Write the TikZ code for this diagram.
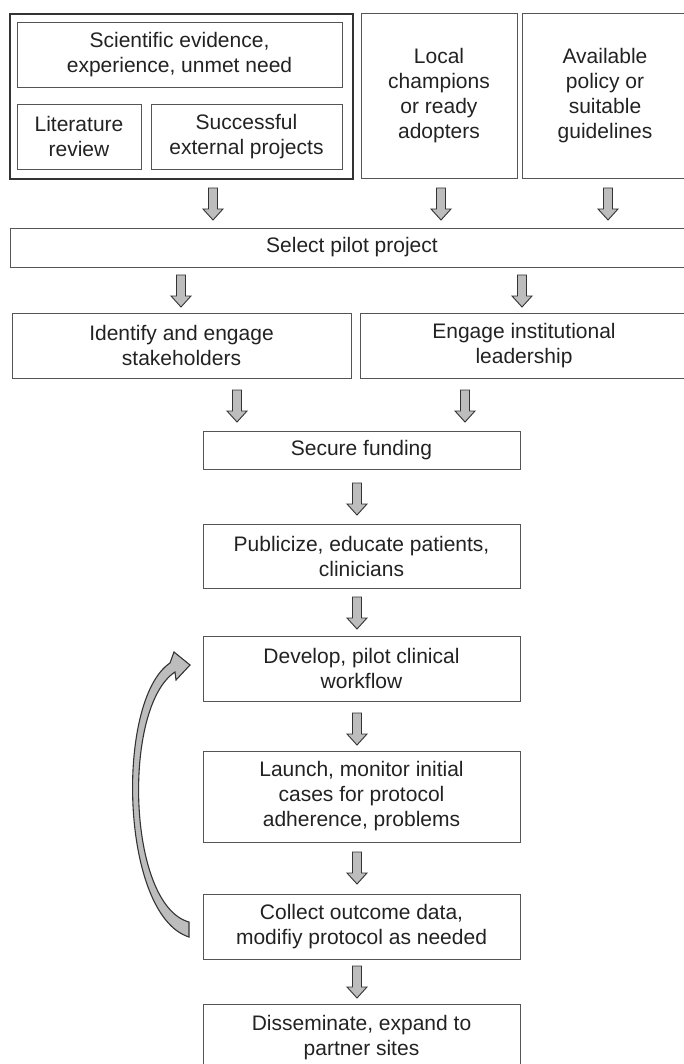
\documentclass[tikz,border=0pt]{standalone}
\usepackage{fontspec}
\setmainfont{Liberation Sans}
\newcommand\bxfont{\fontsize{21}{25}\selectfont}
\definecolor{boxline}{HTML}{555555}
\definecolor{darkline}{HTML}{333333}
\definecolor{txt}{HTML}{222222}
\definecolor{arrowgray}{HTML}{BDBDBD}
\tikzset{
  box/.style={draw=boxline, line width=0.9pt, align=center, inner sep=0pt,
              font=\bxfont, text=txt, rectangle},
  outerbox/.style={draw=darkline, line width=1.6pt, rectangle, inner sep=0pt},
  arrfill/.style={draw=darkline, line width=0.9pt, fill=arrowgray, line join=miter},
  darr/.pic={\draw[arrfill] (-4.5,0) -- (-4.5,21) -- (-10,21) -- (0,32) -- (10,21) -- (4.5,21) -- (4.5,0) -- cycle;}
}
\begin{document}
\begin{tikzpicture}[x=1pt,y=-1pt]
\useasboundingbox (0,0) rectangle (684,1064);
\clip (0,0) rectangle (684,1064);
% top group
\node[outerbox, minimum width=343pt, minimum height=165pt] (outer) at (181.5,96.5) {};
\node[box, minimum width=325pt, minimum height=65pt] (sci) at (179.5,54.5) {Scientific evidence,\\experience, unmet need};
\node[box, minimum width=124pt, minimum height=65pt] (lit) at (79,136.5) {Literature\\review};
\node[box, minimum width=191pt, minimum height=65pt] (ext) at (246.5,136.5) {Successful\\external projects};
\node[box, minimum width=156pt, minimum height=165pt] (loc) at (439,95.5) {Local\\champions\\or ready\\adopters};
\node[box, minimum width=166pt, minimum height=165pt] (pol) at (605,95.5) {Available\\policy or\\suitable\\guidelines};
% select
\node[box, minimum width=684pt, minimum height=39pt] (sel) at (352,247.5) {Select pilot project};
% stakeholders
\node[box, minimum width=339pt, minimum height=65pt] (ide) at (181.5,345.5) {Identify and engage\\stakeholders};
\node[box, minimum width=328pt, minimum height=65pt] (eng) at (524,345.5) {Engage institutional\\leadership};
% chain
\node[box, minimum width=317pt, minimum height=38pt] (sec) at (361.5,450) {Secure funding};
\node[box, minimum width=317pt, minimum height=64pt] (pub) at (361.5,556) {Publicize, educate patients,\\clinicians};
\node[box, minimum width=317pt, minimum height=65pt] (dev) at (361.5,668.5) {Develop, pilot clinical\\workflow};
\node[box, minimum width=317pt, minimum height=91pt] (lau) at (361.5,796.5) {Launch, monitor initial\\cases for protocol\\adherence, problems};
\node[box, minimum width=317pt, minimum height=65pt] (col) at (361.5,926.5) {Collect outcome data,\\modifiy protocol as needed};
\node[box, minimum width=317pt, minimum height=68pt] (dis) at (361.5,1038) {Disseminate, expand to\\partner sites};
% block arrows
\pic at (213,188) {darr};
\pic at (441,188) {darr};
\pic at (608,188) {darr};
\pic at (181,275) {darr};
\pic at (522,275) {darr};
\pic at (237,390) {darr};
\pic at (465,390) {darr};
\pic at (357,483) {darr};
\pic at (357,597) {darr};
\pic at (357,713) {darr};
\pic at (357,852) {darr};
\pic at (357,966) {darr};
% curved feedback arrow
\draw[draw=darkline, line width=1.1pt, fill=arrowgray, line join=miter]
  (189,937) .. controls (120,915) and (115,700) .. (170,663)
  -- (174,652) -- (190,665) -- (176,680) -- (175,672)
  .. controls (122,707) and (127,905) .. (189,922) -- cycle;
\end{tikzpicture}
\end{document}
